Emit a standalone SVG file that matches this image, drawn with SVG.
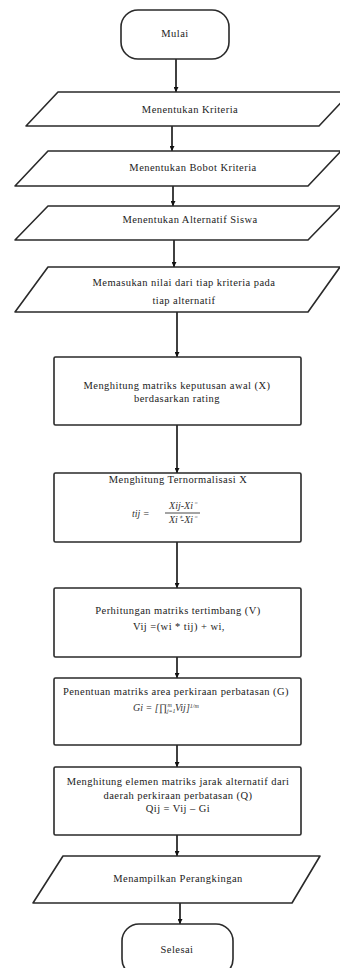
<svg xmlns="http://www.w3.org/2000/svg" width="340" height="968" viewBox="0 0 340 968">
<defs>
<marker id="ah" viewBox="0 0 10 10" refX="10" refY="5" markerWidth="5" markerHeight="5" orient="auto" markerUnits="userSpaceOnUse">
<path d="M0,0 L10,5 L0,10 z" fill="#111"/>
</marker>
<style>
.s{fill:#fff;stroke:#2a2a2a;stroke-width:1.6;stroke-linejoin:round}
.t{font-family:"Liberation Serif","Times New Roman",serif;font-size:10.5px;letter-spacing:0.45px;fill:#222;text-anchor:middle}
.m{font-family:"Liberation Serif","Times New Roman",serif;font-size:10px;fill:#333;font-style:italic}
.c{stroke:#111;stroke-width:1.6;fill:none;marker-end:url(#ah)}
</style>
</defs>
<rect width="340" height="968" fill="#fff"/>
<g id="connectors">
<line class="c" x1="176" y1="59" x2="176" y2="92"/>
<line class="c" x1="172" y1="126" x2="172" y2="151"/>
<line class="c" x1="173" y1="186" x2="173" y2="206"/>
<line class="c" x1="174" y1="240" x2="174" y2="267"/>
<line class="c" x1="177" y1="312" x2="177" y2="357"/>
<line class="c" x1="177" y1="425" x2="177" y2="473"/>
<line class="c" x1="177" y1="542" x2="177" y2="588"/>
<line class="c" x1="177" y1="657" x2="177" y2="678"/>
<line class="c" x1="177" y1="745" x2="177" y2="767"/>
<line class="c" x1="177" y1="835" x2="177" y2="856"/>
<line class="c" x1="180" y1="903" x2="180" y2="924"/>
</g>
<g id="mulai">
<rect class="s" x="121" y="10" width="108" height="49" rx="17"/>
<text class="t" x="175" y="37">Mulai</text>
</g>
<g id="kriteria">
<polygon class="s" points="58,92 351,92 319,126 26,126"/>
<text class="t" x="190" y="113">Menentukan  Kriteria</text>
</g>
<g id="bobot">
<polygon class="s" points="48,151 341,151 308,186 15,186"/>
<text class="t" x="193" y="171">Menentukan  Bobot Kriteria</text>
</g>
<g id="alternatif">
<polygon class="s" points="48,206 341,206 308,240 15,240"/>
<text class="t" x="190" y="223">Menentukan Alternatif Siswa</text>
</g>
<g id="nilai">
<polygon class="s" points="48,267 340,267 308,312 15,312"/>
<text class="t" x="184" y="286">Memasukan nilai dari tiap kriteria pada</text>
<text class="t" x="184" y="304">tiap alternatif</text>
</g>
<g id="matriks-awal">
<rect class="s" x="54" y="357" width="247" height="68" rx="1.5"/>
<text class="t" x="177" y="389">Menghitung matriks keputusan awal (X)</text>
<text class="t" x="177" y="402">berdasarkan rating</text>
</g>
<g id="normalisasi">
<rect class="s" x="54" y="473" width="247" height="69" rx="1.5"/>
<text class="t" x="178" y="483">Menghitung Ternormalisasi X</text>
<text class="m" x="132" y="517" font-size="12">tij =</text>
<text class="m" x="182.5" y="509" font-size="8" text-anchor="middle">Xij-Xi⁻</text>
<line x1="165" y1="513" x2="200" y2="513" stroke="#333" stroke-width="0.9"/>
<text class="m" x="182.5" y="523" font-size="8" text-anchor="middle">Xi⁺-Xi⁻</text>
</g>
<g id="tertimbang">
<rect class="s" x="54" y="588" width="247" height="69" rx="1.5"/>
<text class="t" x="178" y="614">Perhitungan matriks tertimbang (V)</text>
<text class="t" x="179" y="630">Vij =(wi * tij) + wi,</text>
</g>
<g id="perbatasan">
<rect class="s" x="54" y="678" width="247" height="67" rx="1.5"/>
<text class="t" x="176" y="695">Penentuan matriks area perkiraan perbatasan (G)</text>
<text class="m" x="133" y="711" font-size="10.5">Gi = [∏<tspan font-size="6" dy="2">j=1</tspan><tspan font-size="6" dx="-8" dy="-6">m</tspan><tspan dx="3" dy="4">Vij</tspan>]<tspan font-size="6" dy="-3">1/m</tspan></text>
</g>
<g id="jarak">
<rect class="s" x="54" y="767" width="247" height="68" rx="1.5"/>
<text class="t" x="178" y="785">Menghitung elemen matriks jarak alternatif dari</text>
<text class="t" x="178" y="799">daerah perkiraan perbatasan (Q)</text>
<text class="t" x="178" y="812">Qij = Vij – Gi</text>
</g>
<g id="perangkingan">
<polygon class="s" points="63,856 320,856 292,903 33,903"/>
<text class="t" x="178" y="882">Menampilkan Perangkingan</text>
</g>
<g id="selesai">
<rect class="s" x="122" y="924" width="111" height="52" rx="17"/>
<text class="t" x="177" y="953">Selesai</text>
</g>
</svg>
